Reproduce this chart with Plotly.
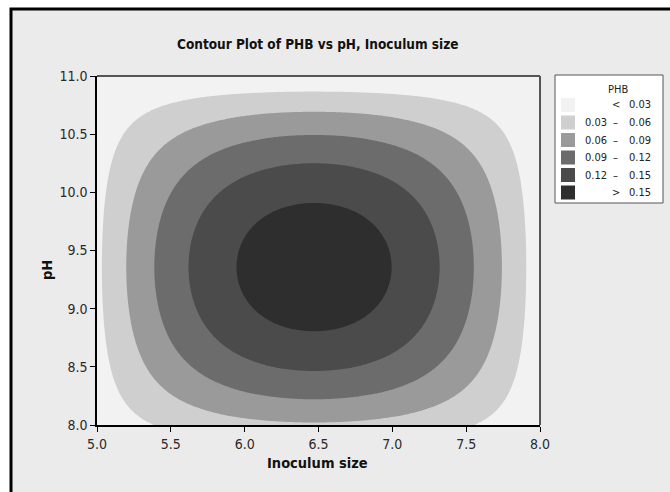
import numpy as np
import plotly.graph_objects as go

# Fitted response surface for PHB: product of quadratic profiles in each factor
phb_peak = 0.1685          # predicted PHB at the optimum
inoculum_opt = 6.47        # inoculum size at the optimum
ph_opt = 9.357             # pH at the optimum
inoculum_curv = 0.398      # relative curvature along inoculum size
ph_curv = 0.361            # relative curvature along pH

inoculum_range = [5.0, 8.0]
ph_range = [8.0, 11.0]
x_ticks = [5.0, 5.5, 6.0, 6.5, 7.0, 7.5, 8.0]
y_ticks = [8.0, 8.5, 9.0, 9.5, 10.0, 10.5, 11.0]

levels = [0.03, 0.06, 0.09, 0.12, 0.15]
band_colors = ["#f2f2f2", "#cfcfcf", "#9a9a9a", "#6c6c6c", "#4b4b4b", "#2e2e2e"]
band_lower = ["<", "0.03", "0.06", "0.09", "0.12", ">"]
band_upper = ["0.03", "0.06", "0.09", "0.12", "0.15", "0.15"]

# Evaluate the surface on a fine grid
xs = np.linspace(inoculum_range[0], inoculum_range[1], 301)
ys = np.linspace(ph_range[0], ph_range[1], 301)
X, Y = np.meshgrid(xs, ys)
Z = phb_peak * (1 - inoculum_curv * (X - inoculum_opt) ** 2) * (1 - ph_curv * (Y - ph_opt) ** 2)

W, H = 670, 492
L, R, T, B = 97, 540, 76, 425   # plot box in pixels


def px(x):
    return (x - L) / (R - L)


def py(y):
    return (B - y) / (B - T)


n = len(band_colors)
colorscale = []
for i, c in enumerate(band_colors):
    colorscale.append([i / n, c])
    colorscale.append([(i + 1) / n, c])

fig = go.Figure()
fig.add_trace(go.Contour(
    x=xs, y=ys, z=Z,
    contours=dict(start=levels[0], end=levels[-1], size=levels[1] - levels[0], coloring="fill"),
    colorscale=colorscale,
    line=dict(width=0),
    showscale=False,
    hoverinfo="skip",
))

COND = "DejaVu Sans Condensed"
tick_font = dict(family=COND, size=14, color="#2a2a2a")
axis_common = dict(ticks="outside", ticklen=5, tickwidth=1, tickcolor="black",
                   showline=True, linecolor="black", linewidth=1.5, showgrid=False, zeroline=False,
                   tickfont=tick_font)
fig.update_xaxes(range=inoculum_range, tickvals=x_ticks, ticktext=[f"{v:.1f}" for v in x_ticks],
                 **axis_common)
fig.update_yaxes(range=ph_range, tickvals=y_ticks, ticktext=[f"{v:.1f}" for v in y_ticks],
                 **axis_common)

shapes = []
# outer panel with black frame
shapes.append(dict(type="rect", xref="paper", yref="paper", layer="below",
                   x0=px(11), x1=px(720), y0=py(9), y1=py(540),
                   fillcolor="#ebebeb", line=dict(color="black", width=3)))
# top and right edges of the plot box
shapes.append(dict(type="line", xref="paper", yref="paper", x0=0, x1=1, y0=1, y1=1,
                   line=dict(color="#555555", width=2)))
shapes.append(dict(type="line", xref="paper", yref="paper", x0=1, x1=1, y0=0, y1=1,
                   line=dict(color="#555555", width=2)))
# legend box
shapes.append(dict(type="rect", xref="paper", yref="paper",
                   x0=px(555), x1=px(663), y0=py(75), y1=py(203),
                   fillcolor="white", line=dict(color="#555555", width=1)))

annotations = []
leg_font = dict(family=COND, size=11, color="#222222")
annotations.append(dict(text="PHB", xref="paper", yref="paper", x=px(618), y=py(89),
                        showarrow=False, font=leg_font, xanchor="center", yanchor="middle"))
row0, step = 105, 17.5
for i, c in enumerate(band_colors):
    yc = row0 + i * step
    shapes.append(dict(type="rect", xref="paper", yref="paper",
                       x0=px(561), x1=px(575), y0=py(yc - 7), y1=py(yc + 7),
                       fillcolor=c, line=dict(width=0)))
    if band_lower[i] in ("<", ">"):
        annotations.append(dict(text=band_lower[i], xref="paper", yref="paper", x=px(616), y=py(yc),
                                showarrow=False, font=leg_font, xanchor="center", yanchor="middle"))
    else:
        annotations.append(dict(text=band_lower[i], xref="paper", yref="paper", x=px(583), y=py(yc),
                                showarrow=False, font=leg_font, xanchor="left", yanchor="middle"))
        annotations.append(dict(text="–", xref="paper", yref="paper", x=px(615), y=py(yc),
                                showarrow=False, font=leg_font, xanchor="center", yanchor="middle"))
    annotations.append(dict(text=band_upper[i], xref="paper", yref="paper", x=px(653), y=py(yc),
                            showarrow=False, font=leg_font, xanchor="right", yanchor="middle"))

title_font = dict(family=COND, size=13.5, color="#111111")
annotations.append(dict(text="<b>Contour Plot of PHB vs pH, Inoculum size</b>", xref="paper", yref="paper",
                        x=px(318), y=py(44), showarrow=False, font=title_font,
                        xanchor="center", yanchor="middle"))
axis_font = dict(family=COND, size=14.5, color="#111111")
annotations.append(dict(text="<b>Inoculum size</b>", xref="paper", yref="paper",
                        x=px(317), y=py(463), showarrow=False, font=axis_font,
                        xanchor="center", yanchor="middle"))
annotations.append(dict(text="<b>pH</b>", xref="paper", yref="paper",
                        x=px(47), y=py(270), showarrow=False, font=axis_font, textangle=-90,
                        xanchor="center", yanchor="middle"))

fig.update_layout(
    width=W, height=H,
    margin=dict(l=L, r=W - R, t=T, b=H - B, pad=0),
    paper_bgcolor="white", plot_bgcolor="#f2f2f2",
    shapes=shapes, annotations=annotations, showlegend=False,
)

fig.write_html("out.html")
